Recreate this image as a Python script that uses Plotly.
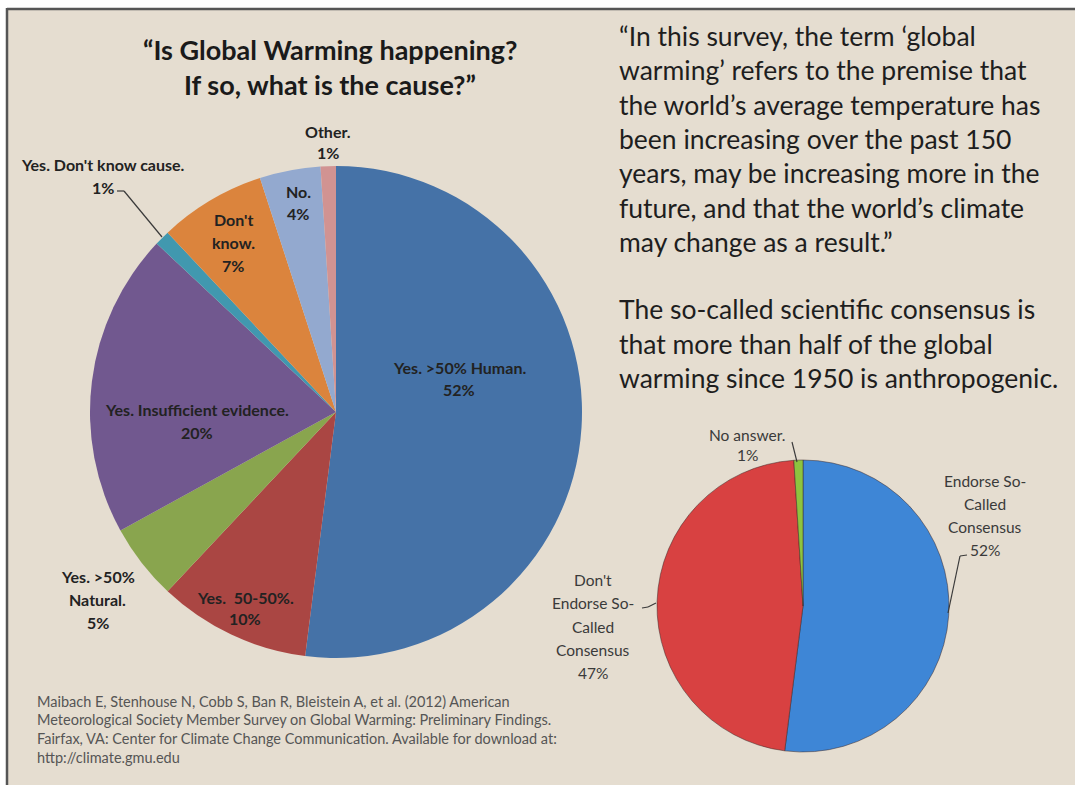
import plotly.graph_objects as go

W, H = 1075, 785

# ---- data ----
cause_labels = ["Yes. >50% Human.", "Yes.  50-50%.", "Yes. >50% Natural.",
                "Yes. Insufficient evidence.", "Yes. Don't know cause.",
                "Don't know.", "No.", "Other."]
cause_values = [52, 10, 5, 20, 1, 7, 4, 1]
cause_colors = ["#4572A7", "#AA4643", "#89A54E", "#71588F", "#4198AF",
                "#DB843D", "#93A9CF", "#D19392"]

consensus_labels = ["Endorse So-Called Consensus", "Don't Endorse So-Called Consensus", "No answer."]
consensus_values = [52, 47, 1]
consensus_colors = ["#3E86D6", "#D84141", "#8DC43F"]

title_lines = ["\u201cIs Global Warming happening?", "If so, what is the cause?\u201d"]
quote_lines = [
    "\u201cIn this survey, the term \u2018global",
    "warming\u2019 refers to the premise that",
    "the world\u2019s average temperature has",
    "been increasing over the past 150",
    "years, may be increasing more in the",
    "future, and that the world\u2019s climate",
    "may change as a result.\u201d",
]
consensus_lines = [
    "The so-called scientific consensus is",
    "that more than half of the global",
    "warming since 1950 is anthropogenic.",
]
citation_lines = [
    "Maibach E, Stenhouse N, Cobb S, Ban R, Bleistein A, et al. (2012) American",
    "Meteorological Society Member Survey on Global Warming: Preliminary Findings.",
    "Fairfax, VA: Center for Climate Change Communication. Available for download at:",
    "http://climate.gmu.edu",
]

# label line breaks for display
cause_label_lines = [
    ["Yes. >50% Human."], ["Yes.  50-50%."], ["Yes. >50%", "Natural."],
    ["Yes. Insufficient evidence."], ["Yes. Don't know cause."],
    ["Don't", "know."], ["No."], ["Other."],
]
consensus_label_lines = [
    ["Endorse So-", "Called", "Consensus"],
    ["Don't", "Endorse So-", "Called", "Consensus"],
    ["No answer."],
]

FONT = "Lato"
BG = "#E5DDD0"


def px(x):
    return x / W


def py(y):
    return 1 - y / H


fig = go.Figure()

# pie 1
c1x, c1y, r1 = 336, 412, 246
fig.add_trace(go.Pie(
    labels=cause_labels, values=cause_values, sort=False, direction="clockwise",
    rotation=0, textinfo="none", hoverinfo="label+percent",
    marker=dict(colors=cause_colors, line=dict(width=0)),
    domain=dict(x=[px(c1x - r1), px(c1x + r1)], y=[py(c1y + r1), py(c1y - r1)]),
    showlegend=False,
))

# pie 2
c2x, c2y, r2 = 803, 606, 146
fig.add_trace(go.Pie(
    labels=consensus_labels, values=consensus_values, sort=False, direction="clockwise",
    rotation=0, textinfo="none", hoverinfo="label+percent",
    marker=dict(colors=consensus_colors, line=dict(width=1, color="rgba(60,40,40,0.5)")),
    domain=dict(x=[px(c2x - r2), px(c2x + r2)], y=[py(c2y + r2), py(c2y - r2)]),
    showlegend=False,
))

annotations = []


def add_lines(lines, x, y0, dy, size, color, bold=False, anchor="center"):
    for i, t in enumerate(lines):
        txt = f"<b>{t}</b>" if bold else t
        annotations.append(dict(
            text=txt, x=px(x), y=py(y0 + i * dy), xref="paper", yref="paper",
            xanchor=anchor, yanchor="middle", showarrow=False,
            font=dict(family=FONT, size=size, color=color),
        ))


# title
add_lines(title_lines, 330, 50, 35, 27, "#1a1a1a", bold=True)

# pie 1 labels (text lines + percentage)
pie1_pos = [
    (459, 367, 22), (245, 597, 21), (98, 576, 23), (197, 409, 23),
    (103, 165, 23), (233, 220, 23), (298, 192, 22), (328, 132, 21),
]
for lines, v, (x, y, dy) in zip(cause_label_lines, cause_values, pie1_pos):
    add_lines(lines + [f"{v}%"], x, y, dy, 16, "#222222", bold=True)

# pie 2 labels
pie2_pos = [(985, 481, 23), (593, 580, 23.3), (747, 435, 20)]
for lines, v, (x, y, dy) in zip(consensus_label_lines, consensus_values, pie2_pos):
    add_lines(lines + [f"{v}%"], x, y, dy, 15.5, "#3a3a3a")

# right text block
add_lines(quote_lines, 617, 36, 34.3, 26.5, "#1e1e1e", anchor="left")
add_lines(consensus_lines, 617, 309, 34.5, 26.5, "#1e1e1e", anchor="left")

# citation
add_lines(citation_lines, 35, 701, 18.8, 14.5, "#555555", anchor="left")

shapes = [
    dict(type="rect", xref="paper", yref="paper", x0=px(7), x1=1, y0=0, y1=py(8),
         fillcolor=BG, line=dict(width=0), layer="below"),
    dict(type="line", xref="paper", yref="paper", x0=px(7), x1=1, y0=py(9), y1=py(9),
         line=dict(color="#555555", width=2.5), layer="above"),
    dict(type="line", xref="paper", yref="paper", x0=px(7), x1=px(7), y0=0, y1=py(8),
         line=dict(color="#555555", width=2.5), layer="above"),
]

# leader lines
leaders = [
    [(117, 191), (124, 191), (162, 237)],
    [(792, 442), (797, 462)],
    [(967, 555), (960, 556), (948, 613)],
    [(642, 608), (648, 607), (656, 603)],
]
for pts in leaders:
    for (xa, ya), (xb, yb) in zip(pts[:-1], pts[1:]):
        shapes.append(dict(type="line", xref="paper", yref="paper",
                           x0=px(xa), y0=py(ya), x1=px(xb), y1=py(yb),
                           line=dict(color="#3a3a3a", width=1.2), layer="above"))

fig.update_layout(
    width=W, height=H, margin=dict(l=0, r=0, t=0, b=0),
    paper_bgcolor="white", plot_bgcolor=BG,
    annotations=annotations, shapes=shapes,
    font=dict(family=FONT),
)

fig.write_html("out.html", config={"displayModeBar": False},
               post_script="document.body.style.margin='0';")
